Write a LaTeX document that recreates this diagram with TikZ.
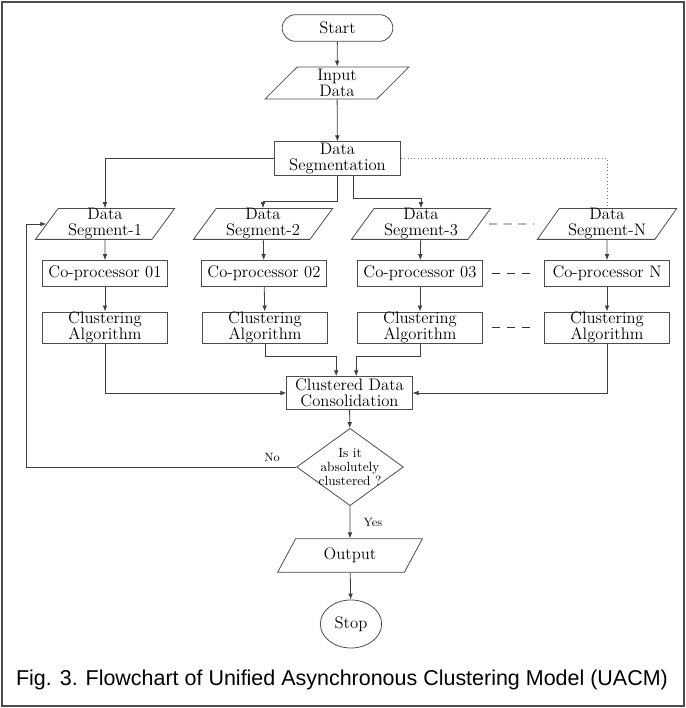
\documentclass[tikz,border=0pt]{standalone}
\usepackage{fontspec}
\newfontfamily\capfont{Liberation Sans}
\usetikzlibrary{arrows.meta,shapes.geometric,shapes.misc}

\begin{document}
\begin{tikzpicture}[x=0.75pt,y=0.75pt,>={Latex[length=4.5pt,width=3.5pt]},line width=0.6pt,
    every node/.style={font=\fontsize{12.5}{12}\selectfont,align=center,inner sep=0pt},
    flow/.style={->,draw=black!75},
    box/.style={rectangle,draw=black!70,minimum width=94pt,minimum height=24pt},
    cobox/.style={box,minimum height=19.5pt},
    io/.style={trapezium,trapezium left angle=60,trapezium right angle=120,trapezium stretches=true,
        draw=black!70,minimum width=105pt,minimum height=21pt},
    gap/.style={draw=black!80,dash pattern=on 6pt off 5pt,shorten <=7pt,shorten >=10pt}]

	\useasboundingbox (0,0) rectangle (686,708);
	\draw[black!70,line width=1pt] (2,2) rectangle (684,706);

	\node[rounded rectangle,draw=black!70,minimum width=83pt,minimum height=20pt] (start) at (337.5,680) {Start};
	\node[io,minimum width=108pt,minimum height=24pt] (in) at (337,625) {Input\\Data};
	\node[box,minimum height=25pt] (seg) at (337.5,549.5) {Data\\Segmentation};

	\node[io] (d1) at (105,484) {Data\\Segment-1};
	\node[io] (d2) at (263,484) {Data\\Segment-2};
	\node[io] (d3) at (421,484) {Data\\Segment-3};
	\node[io] (dN) at (607,484) {Data\\Segment-N};

	\node[cobox] (c1) at (105,434.5) {Co-processor 01};
	\node[cobox] (c2) at (264,434.5) {Co-processor 02};
	\node[cobox] (c3) at (420,434.5) {Co-processor 03};
	\node[cobox] (cN) at (607,434.5) {Co-processor N};

	\node[box,minimum height=22pt] (a1) at (105,380.5) {Clustering\\Algorithm};
	\node[box,minimum height=22pt] (a2) at (265,380.5) {Clustering\\Algorithm};
	\node[box,minimum height=22pt] (a3) at (420,380.5) {Clustering\\Algorithm};
	\node[box,minimum height=22pt] (aN) at (607,380.5) {Clustering\\Algorithm};

	\node[box,minimum height=24.5pt] (cdc) at (349.5,315) {Clustered Data\\Consolidation};
	\node[diamond,draw=black!70,minimum width=80pt,minimum height=58pt,
	    label={[font=\fontsize{10}{10.7}\selectfont]center:Is it\\absolutely\\clustered ?}] (check) at (350,241) {};
	\node[io,minimum width=109pt,minimum height=25pt] (out) at (350,152.5) {Output};
	\node[ellipse,draw=black!70,minimum width=46pt,minimum height=36pt] (stop) at (351,84) {Stop};

	\node[font=\capfont\fontsize{16.1}{18}\selectfont] (cap) at (342,28)
	    {Fig. 3. Flowchart of Unified Asynchronous Clustering Model (UACM)};

	\draw[flow] (start) -- (in);
	\draw[flow] (in) -- (seg);
	\draw[flow] (seg.west) -| (d1.north);
	\draw[flow] (seg.south) -- ++(0,-26) -| (d2.north);
	\draw[flow] ([xshift=12pt]seg.south) -- ++(0,-23) -| (d3.north);
	\draw[black!55,dotted] (seg.east) -| (dN.north);

	\draw[flow] (d1) -- (c1);
	\draw[flow] (d2) -- (c2);
	\draw[flow] (d3) -- (c3);
	\draw[flow] (dN) -- (cN);
	\draw[flow] (c1) -- (a1);
	\draw[flow] (c2) -- (a2);
	\draw[flow] (c3) -- (a3);
	\draw[flow] (cN) -- (aN);

	\draw[gap] (d3) -- (dN);
	\draw[gap] (c3) -- (cN);
	\draw[gap] (a3) -- (aN);

	\draw[flow] (a1.south) |- (cdc.west);
	\draw[flow] (a2.south) -- ++(0,-13) -| ([xshift=-10pt]cdc.north);
	\draw[flow] (a3.south) -- ++(0,-13) -| ([xshift=5pt]cdc.north);
	\draw[flow] (aN.south) |- (cdc.east);

	\draw[flow] (cdc) -- (check);
	\draw[flow] (check.west) -- node[pos=0.09,above=4pt,font=\fontsize{9}{10}\selectfont] {No}
	    ++(-270,0) |- (d1.west);
	\draw[flow] (check) -- node[right=10pt,font=\fontsize{9}{10}\selectfont] {Yes} (out);
	\draw[flow] (out) -- (stop);

\end{tikzpicture}
\end{document}
